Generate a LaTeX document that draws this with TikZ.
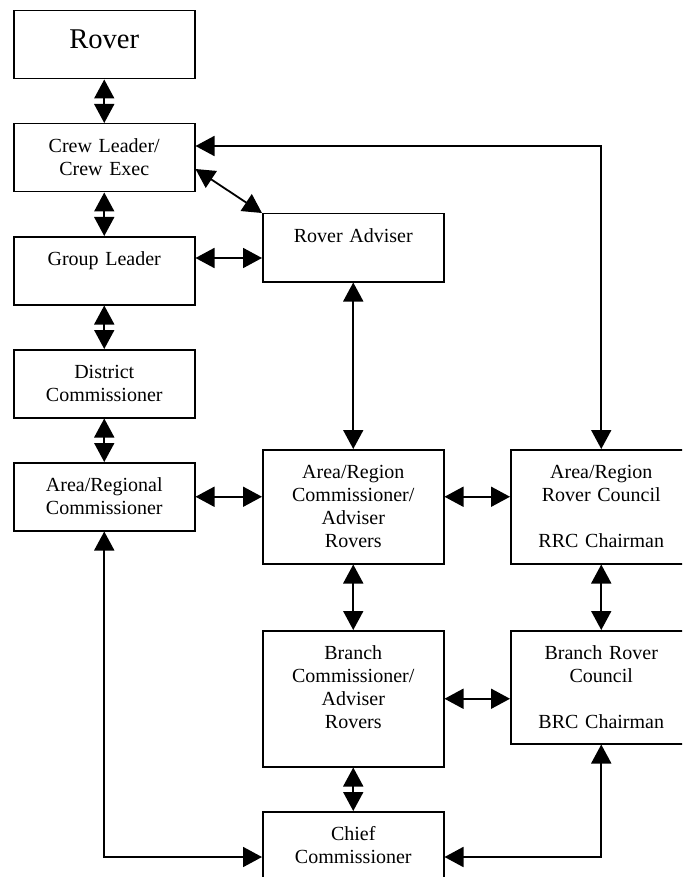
\documentclass[tikz,border=0pt]{standalone}
\usepackage{fontspec}
\setmainfont{Liberation Serif}
\usetikzlibrary{arrows.meta}

\tikzset{
  box/.style={draw, line width=1.5pt, anchor=north west, inner sep=0pt,
    text width=181pt, align=center, text height=29pt, text depth=#1,
    font=\fontsize{20}{23}\selectfont},
  link/.style={line width=1.8pt,
    {Triangle[length=19pt,width=20pt]}-{Triangle[length=19pt,width=20pt]}},
}

\begin{document}
\begin{tikzpicture}[x=1pt,y=-1pt]
	\useasboundingbox (0,0) rectangle (682,877);
	\clip (0,0) rectangle (682,877);
	
	% THE BOXES
	% LEFT COLUMN
	\node[box=30pt, text height=38pt, font=\fontsize{28.6}{33}\selectfont] (rover) at (13,10) {Rover};
	\node[box=39pt] (crew) at (13,123) {Crew Leader/\\Crew Exec};
	\node[box=39pt] (grp) at (13,236) {Group Leader};
	\node[box=39pt] (dist) at (13,349) {District\\Commissioner};
	\node[box=39pt] (areg) at (13,462) {Area/Regional\\Commissioner};
	%
	% MIDDLE COLUMN
	\node[box=39pt] (adv) at (262,213) {Rover Adviser};
	\node[box=85pt] (arc) at (262,449) {Area/Region\\Commissioner/\\Adviser\\Rovers};
	\node[box=107pt] (bcom) at (262,630) {Branch\\Commissioner/\\Adviser\\Rovers};
	\node[box=41pt] (chief) at (262,811) {Chief\\Commissioner};
	%
	% RIGHT COLUMN
	\node[box=85pt] (rrc) at (510,449) {Area/Region\\Rover Council\\~\\RRC Chairman};
	\node[box=84pt] (brc) at (510,630) {Branch Rover\\Council\\~\\BRC Chairman};
	%
	% THE ARROWS
	% DOWN THE LEFT
	\draw[link] (rover.south) -- (crew.north);
	\draw[link] (crew.south) -- (grp.north);
	\draw[link] (grp.south) -- (dist.north);
	\draw[link] (dist.south) -- (areg.north);
	%
	% TO THE ADVISER
	\draw[link] ([yshift=-46pt]crew.north east) -- (adv.north west);
	\coordinate (g1) at ([yshift=-22pt]grp.north east);
	\draw[link] (g1) -- (g1 -| adv.west);
	\draw[link] (adv.south) -- (arc.north);
	%
	% ACROSS
	\draw[link] ([yshift=-23pt]crew.north east) -| (rrc.north);
	\draw[link] (areg.east) -- (areg.east -| arc.west);
	\draw[link] (areg.east -| arc.east) -- (areg.east -| rrc.west);
	\draw[link] (bcom.east) -- (bcom.east -| brc.west);
	%
	% DOWN THE MIDDLE AND RIGHT
	\draw[link] (arc.south) -- (bcom.north);
	\draw[link] (rrc.south) -- (brc.north);
	\draw[link] (bcom.south) -- (chief.north);
	%
	% TO THE CHIEF
	\coordinate (c1) at ([yshift=-46pt]chief.north west);
	\draw[link] (areg.south) |- (c1);
	\draw[link] (brc.south) |- (c1 -| chief.east);
\end{tikzpicture}
\end{document}
